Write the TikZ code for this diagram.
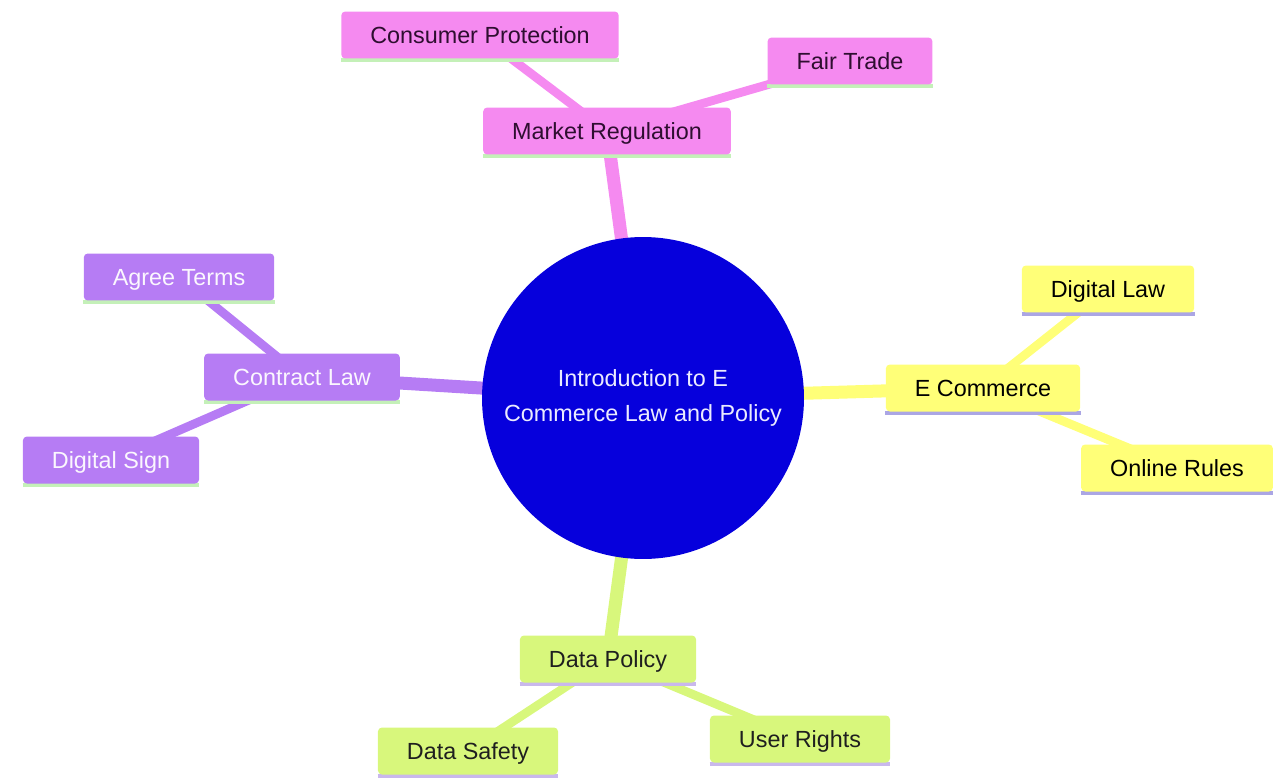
\documentclass[tikz,border=0pt]{standalone}
\usepackage{fontspec}
\setmainfont{Liberation Sans}
\usetikzlibrary{backgrounds}

\definecolor{rootblue}{HTML}{0600DC}
\definecolor{pinkfill}{HTML}{F58AF0}
\definecolor{purplefill}{HTML}{B67CF4}
\definecolor{yellowfill}{HTML}{FFFF78}
\definecolor{greenfill}{HTML}{D8F77C}
\definecolor{greenline}{HTML}{C4F0B8}
\definecolor{lavline}{HTML}{ABA6E4}
\definecolor{lilacline}{HTML}{C9B8EC}
\definecolor{pinktext}{HTML}{2E0E30}

\begin{document}
\begin{tikzpicture}[x=0.02cm, y=-0.02cm,
  box/.style={rectangle, rounded corners=0.08cm, inner xsep=0.58cm, inner ysep=0pt,
    minimum height=0.94cm, text height=9.5pt, text depth=0pt,
    font=\fontsize{13.3}{16}\selectfont},
  rootnode/.style={circle, fill=rootblue, text=white!92!blue, minimum size=6.44cm,
    inner sep=0pt, align=center, font=\fontsize{13.3}{20.4}\selectfont},
  pinkbox/.style={box, fill=pinkfill, text=pinktext},
  purplebox/.style={box, fill=purplefill, text=white!94!purplefill},
  yellowbox/.style={box, fill=yellowfill, text=black},
  greenbox/.style={box, fill=greenfill, text=black!88},
  trunk/.style={line width=7.4pt},
  twig/.style={line width=5pt}]
  \useasboundingbox (0,0) rectangle (1274,781);

  % root
  \node[rootnode] (root) at (643,398) {Introduction to E\\Commerce Law and Policy};

  % market regulation
  \node[pinkbox] (market) at (607,131) {Market Regulation};
  \node[pinkbox] (consumer) at (480,35) {Consumer Protection};
  \node[pinkbox] (fair) at (850,61) {Fair Trade};

  % contract law
  \node[purplebox] (contract) at (302,377) {Contract Law};
  \node[purplebox] (agree) at (179,277) {Agree Terms};
  \node[purplebox] (sign) at (111,460) {Digital Sign};

  % e commerce
  \node[yellowbox] (ecom) at (983,388) {E Commerce};
  \node[yellowbox] (dlaw) at (1108,289) {Digital Law};
  \node[yellowbox] (online) at (1177,468) {Online Rules};

  % data policy
  \node[greenbox] (data) at (608,659) {Data Policy};
  \node[greenbox] (safety) at (468,751) {Data Safety};
  \node[greenbox] (rights) at (800,739) {User Rights};

  \begin{scope}[on background layer]
    \draw[trunk, pinkfill] (root.center) -- (market.center);
    \draw[twig, pinkfill] (market.center) -- (consumer.center);
    \draw[twig, pinkfill] (market.center) -- (fair.center);
    \draw[trunk, purplefill] (root.center) -- (contract.center);
    \draw[twig, purplefill] (contract.center) -- (agree.center);
    \draw[twig, purplefill] (contract.center) -- (sign.center);
    \draw[trunk, yellowfill] (root.center) -- (ecom.center);
    \draw[twig, yellowfill] (ecom.center) -- (dlaw.center);
    \draw[twig, yellowfill] (ecom.center) -- (online.center);
    \draw[trunk, greenfill] (root.center) -- (data.center);
    \draw[twig, greenfill] (data.center) -- (safety.center);
    \draw[twig, greenfill] (data.center) -- (rights.center);
    % bottom strips
    \foreach \n/\c in {market/greenline, consumer/greenline, fair/greenline,
        contract/greenline, agree/greenline, sign/greenline,
        ecom/lavline, dlaw/lavline, online/lavline,
        data/lilacline, safety/lilacline, rights/lilacline}
      \draw[\c, line width=2pt] ([yshift=-0.6pt]\n.south west) -- ([yshift=-0.6pt]\n.south east);
  \end{scope}
\end{tikzpicture}
\end{document}
